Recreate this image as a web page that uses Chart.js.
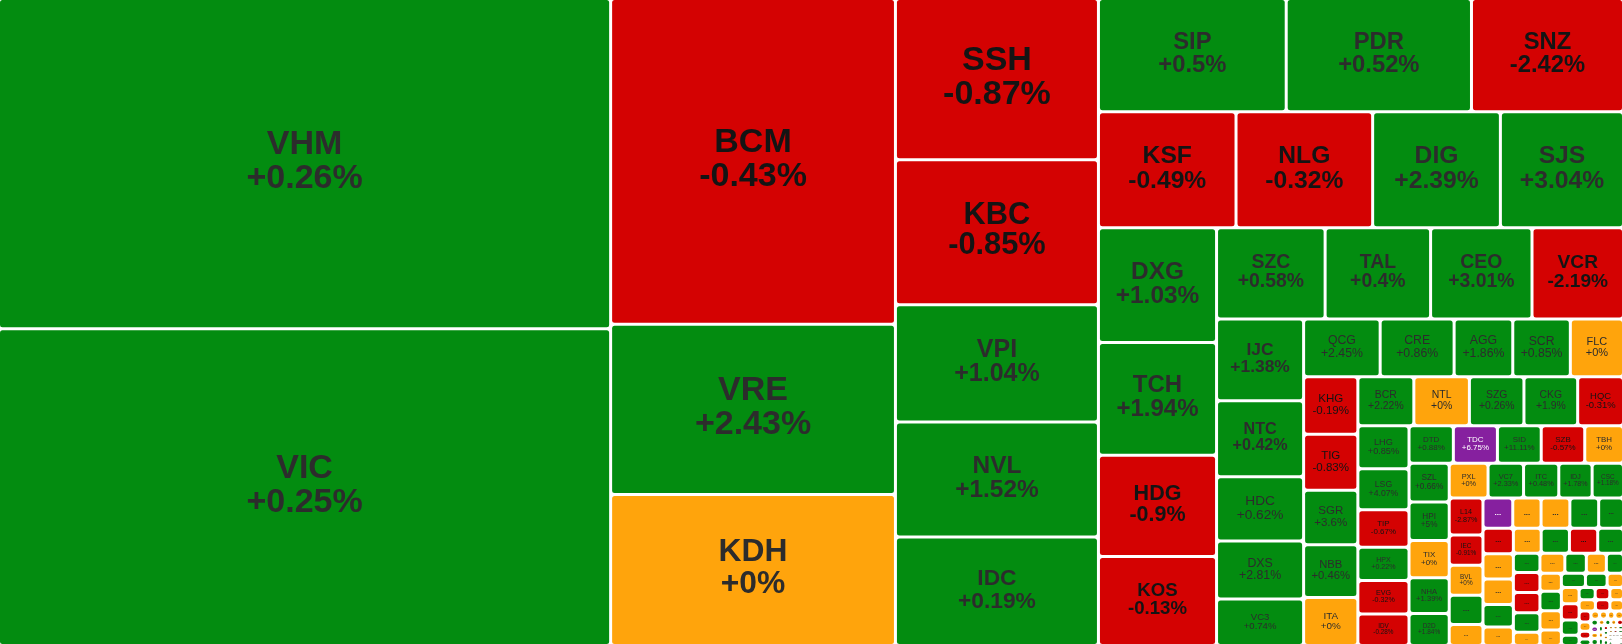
<!DOCTYPE html>
<html>
<head>
<meta charset="utf-8">
<script src="https://cdn.jsdelivr.net/npm/chart.js@4.4.1/dist/chart.umd.min.js"></script>
<style>
  html, body { margin: 0; padding: 0; background: #fff; }
  #wrap { width: 1622px; height: 644px; }
</style>
</head>
<body>
<div id="wrap"><canvas id="heatmap"></canvas></div>
<script>
// ---- data ----
const tickers = [
  'VHM', 'VIC', 'BCM', 'VRE', 'KDH', 'SSH', 'KBC', 'VPI', 'NVL', 'IDC',
  'SIP', 'PDR', 'SNZ', 'KSF', 'NLG', 'DIG', 'SJS', 'DXG', 'TCH', 'HDG',
  'KOS', 'SZC', 'TAL', 'CEO', 'VCR', 'IJC', 'NTC', 'HDC', 'DXS', 'VC3',
  'QCG', 'CRE', 'AGG', 'SCR', 'FLC', 'KHG', 'TIG', 'SGR', 'NBB', 'ITA',
  'BCR', 'NTL', 'SZG', 'CKG', 'HQC', 'LHG', 'LSG', 'TIP', 'HPX', 'EVG',
  'IDV', 'DTD', 'TDC', 'SID', 'SZB', 'TBH', 'SZL', 'HPI', 'TIX', 'NHA',
  'D2D', 'PXL', 'VC7', 'ITC', 'IDJ', 'CSC', 'L14', 'IEC', 'BVL'
];

const changes = [
  0.26, 0.25, -0.43, 2.43, 0, -0.87, -0.85, 1.04, 1.52, 0.19,
  0.5, 0.52, -2.42, -0.49, -0.32, 2.39, 3.04, 1.03, 1.94, -0.9,
  -0.13, 0.58, 0.4, 3.01, -2.19, 1.38, 0.42, 0.62, 2.81, 0.74,
  2.45, 0.86, 1.86, 0.85, 0, -0.19, -0.83, 3.6, 0.46, 0,
  2.22, 0, 0.26, 1.9, -0.31, 0.85, 4.07, -0.67, 0.22, -0.32,
  -0.28, 0.88, 6.75, 11.11, -0.57, 0, 0.66, 5, 0, 1.39,
  1.84, 0, 2.33, 0.48, 1.78, 1.18, -2.87, -0.91, 0
];

// cell sizes; the ones past the named tickers are the tiny "..." cells
const sizes = [
  200500, 192300, 92260, 48420, 42530, 32410, 29370, 23810, 23280, 21720,
  20970, 20690, 16810, 15940, 15830, 14800, 14090, 13540, 13300, 11940,
  10320, 9880, 9600, 9230, 8190, 7120, 6600, 5600, 5040, 3910,
  4420, 4270, 3387, 3324, 2983, 3122, 3030, 2948, 2867, 2516,
  2740, 2720, 2670, 2630, 2170, 2203, 2091, 1913, 1709, 1709,
  1530, 1660, 1650, 1640, 1630, 1395, 1560, 1540, 1500, 1440,
  1220, 1345, 1230, 1220, 1155, 1035, 1250, 1018, 1015,
  982, 660,
  900, 855, 870, 870, 705,
  780, 768, 771, 681, 519,
  700, 712, 712, 612,
  507, 533, 533, 520, 312,
  497, 429, 400, 312,
  384, 414, 414, 300,
  338, 304, 209,
  289, 289, 272, 153,
  198, 180, 150,
  184, 163, 137,
  130, 110, 90, 60,
  70, 65, 60, 58, 52, 48, 45, 42, 40, 38,
  36, 34, 32, 30, 28, 26, 25, 24, 22, 21,
  20, 18, 17, 16, 15, 14, 13, 12, 12, 11,
  10, 10, 9, 9, 8, 8, 7, 7, 6, 6
];

// u = up, d = down, r = reference (unchanged), c = ceiling
const tones = (
  'uudurdduuu' + 'uuddduuuud' + 'duuuduuuuu' + 'uuuurdduur' + 'uruuduudud' +
  'ducudruuru' + 'uruuuuddr' +
  'ur' + 'crruu' + 'drrur' + 'rudu' + 'uddur' + 'ruru' + 'rurr' + 'uur' +
  'rduu' + 'udr' + 'rdr' + 'drdu' +
  'rrrrucruru' + 'rduruduru' + 'rrurduruuru' + 'rrucururru'
).split('');

// strips of the tiling as seen in the picture: v = column, h = row, then cell count
const strips = ['v2', 'v3', 'v5', 'h3', 'h4', 'v4', 'h4', 'v5', 'h5', 'v5', 'h5', 'v6', 'h5',
  'v5', 'h5', 'v5', 'h5', 'v5', 'h4', 'v5', 'h4', 'v4', 'h3', 'v4', 'h3', 'h3', 'v4'];

const fills = { u: '#038c10', d: '#d40202', r: '#ffa40c', c: '#86209f' };
const inks = { u: '#2c2c2c', d: '#141414', r: '#2c2c2c', c: '#ffffff' };
const GAP = 1.5;

// ---- tiling in scale units (0..1 on both axes) ----
function tile(values, plan, aspect) {
  const boxes = [];
  let x0 = 0, y0 = 0, x1 = 1, y1 = 1;
  let rest = values.reduce((a, b) => a + b, 0);
  let i = 0;
  for (const step of plan) {
    const n = +step.slice(1);
    const group = values.slice(i, i + n);
    const sum = group.reduce((a, b) => a + b, 0);
    if (step[0] === 'v') {
      const xm = x0 + (x1 - x0) * sum / rest;
      let y = y0;
      for (const v of group) {
        const y2 = y + (y1 - y0) * v / sum;
        boxes.push({ x0: x0, y0: y, x1: xm, y1: y2 });
        y = y2;
      }
      x0 = xm;
    } else {
      const ym = y0 + (y1 - y0) * sum / rest;
      let x = x0;
      for (const v of group) {
        const x2 = x + (x1 - x0) * v / sum;
        boxes.push({ x0: x, y0: y0, x1: x2, y1: ym });
        x = x2;
      }
      y0 = ym;
    }
    rest -= sum;
    i += n;
  }

  // what is left gets a plain squarify
  const tail = values.slice(i);
  let sx0 = x0 * aspect, sx1 = x1 * aspect;
  let j = 0;
  while (j < tail.length) {
    const dx = sx1 - sx0, dy = y1 - y0;
    const side = Math.min(dx, dy);
    const k = dx * dy / rest;
    let end = j, rowSum = 0, best = Infinity, mx = 0, mn = Infinity;
    while (end < tail.length) {
      const v = tail[end];
      const s = rowSum + v, nmx = Math.max(mx, v), nmn = Math.min(mn, v);
      const a = s * k;
      const worst = Math.max(side * side * nmx * k / (a * a), a * a / (side * side * nmn * k));
      if (worst > best) break;
      best = worst; rowSum = s; mx = nmx; mn = nmn; end++;
    }
    const thick = rowSum * k / side;
    let pos = 0;
    for (let m = j; m < end; m++) {
      const len = tail[m] * k / thick;
      if (dx >= dy) boxes.push({ x0: sx0 / aspect, y0: y0 + pos, x1: (sx0 + thick) / aspect, y1: y0 + pos + len });
      else boxes.push({ x0: (sx0 + pos) / aspect, y0: y0, x1: (sx0 + pos + len) / aspect, y1: y0 + thick });
      pos += len;
    }
    if (dx >= dy) sx0 += thick; else y0 += thick;
    rest -= rowSum;
    j = end;
  }
  return boxes;
}

function fmtChange(c) {
  return (c >= 0 ? '+' : '') + c + '%';
}

class Cell extends Chart.Element {
  static id = 'cell';
  static defaults = {};

  draw(ctx) {
    const { x, y, w, h, fill, ink, lines, fs, weight } = this;
    if (w <= 0 || h <= 0) return;
    ctx.save();
    ctx.fillStyle = fill;
    ctx.beginPath();
    ctx.roundRect(x, y, w, h, Math.min(2.5, w / 2, h / 2));
    ctx.fill();

    ctx.fillStyle = ink;
    ctx.textAlign = 'center';
    ctx.textBaseline = 'alphabetic';
    ctx.font = weight + ' ' + fs + 'px "Liberation Sans", Arial, sans-serif';
    const cx = x + w / 2, cy = y + h / 2;
    if (lines.length === 2) {
      ctx.fillText(lines[0], cx, cy - 0.27 * fs);
      ctx.fillText(lines[1], cx, cy + 0.72 * fs);
    } else {
      ctx.fillText(lines[0], cx, cy + 0.2 * fs);
    }
    ctx.restore();
  }
}

class TreemapController extends Chart.DatasetController {
  static id = 'treemap';
  static defaults = { dataElementType: 'cell', datasetElementType: false };

  parse() {
    this._cachedMeta._parsed = this.getDataset().data;
  }

  getMinMax() {
    return { min: 0, max: 1 };
  }

  update(mode) {
    const meta = this._cachedMeta;
    this.updateElements(meta.data, 0, meta.data.length, mode);
  }

  updateElements(cells, start, count) {
    const { xScale: xs, yScale: ys } = this._cachedMeta;
    const ds = this.getDataset();
    const aspect = (xs.getPixelForValue(1) - xs.getPixelForValue(0)) /
                   (ys.getPixelForValue(1) - ys.getPixelForValue(0));
    const boxes = tile(ds.data, ds.strips, aspect);

    for (let i = start; i < start + count; i++) {
      const b = boxes[i];
      const left = xs.getPixelForValue(b.x0), right = xs.getPixelForValue(b.x1);
      const top = ys.getPixelForValue(b.y0), bottom = ys.getPixelForValue(b.y1);
      const l = left + (b.x0 > 1e-9 ? GAP : 0);
      const r = right - (b.x1 < 1 - 1e-9 ? GAP : 0);
      const t = top + (b.y0 > 1e-9 ? GAP : 0);
      const bt = bottom - (b.y1 < 1 - 1e-9 ? GAP : 0);
      const minSide = Math.min(right - left, bottom - top);
      let fs = Math.min(34, minSide / 4.7);
      let lines, weight = fs >= 14 ? 'bold' : 'normal';
      const name = tickers[i];
      if (name && fs >= 6) {
        lines = [name, fmtChange(changes[i])];
      } else {
        lines = ['...'];
        fs = Math.max(3, Math.min(8, minSide / 3.6));
        weight = 'bold';
      }
      const tone = tones[i];
      Object.assign(cells[i], {
        x: l, y: t, w: r - l, h: bt - t,
        fill: fills[tone], ink: inks[tone],
        lines: lines, fs: fs, weight: weight
      });
    }
  }
}

Chart.register(Cell, TreemapController);

new Chart(document.getElementById('heatmap'), {
  type: 'treemap',
  data: {
    datasets: [{ data: sizes, strips: strips }]
  },
  options: {
    responsive: true,
    maintainAspectRatio: false,
    animation: false,
    events: [],
    layout: { padding: 0 },
    scales: {
      x: { type: 'linear', min: 0, max: 1, display: false },
      y: { type: 'linear', min: 0, max: 1, reverse: true, display: false }
    },
    plugins: {
      legend: false,
      tooltip: false
    }
  }
});
</script>
</body>
</html>
